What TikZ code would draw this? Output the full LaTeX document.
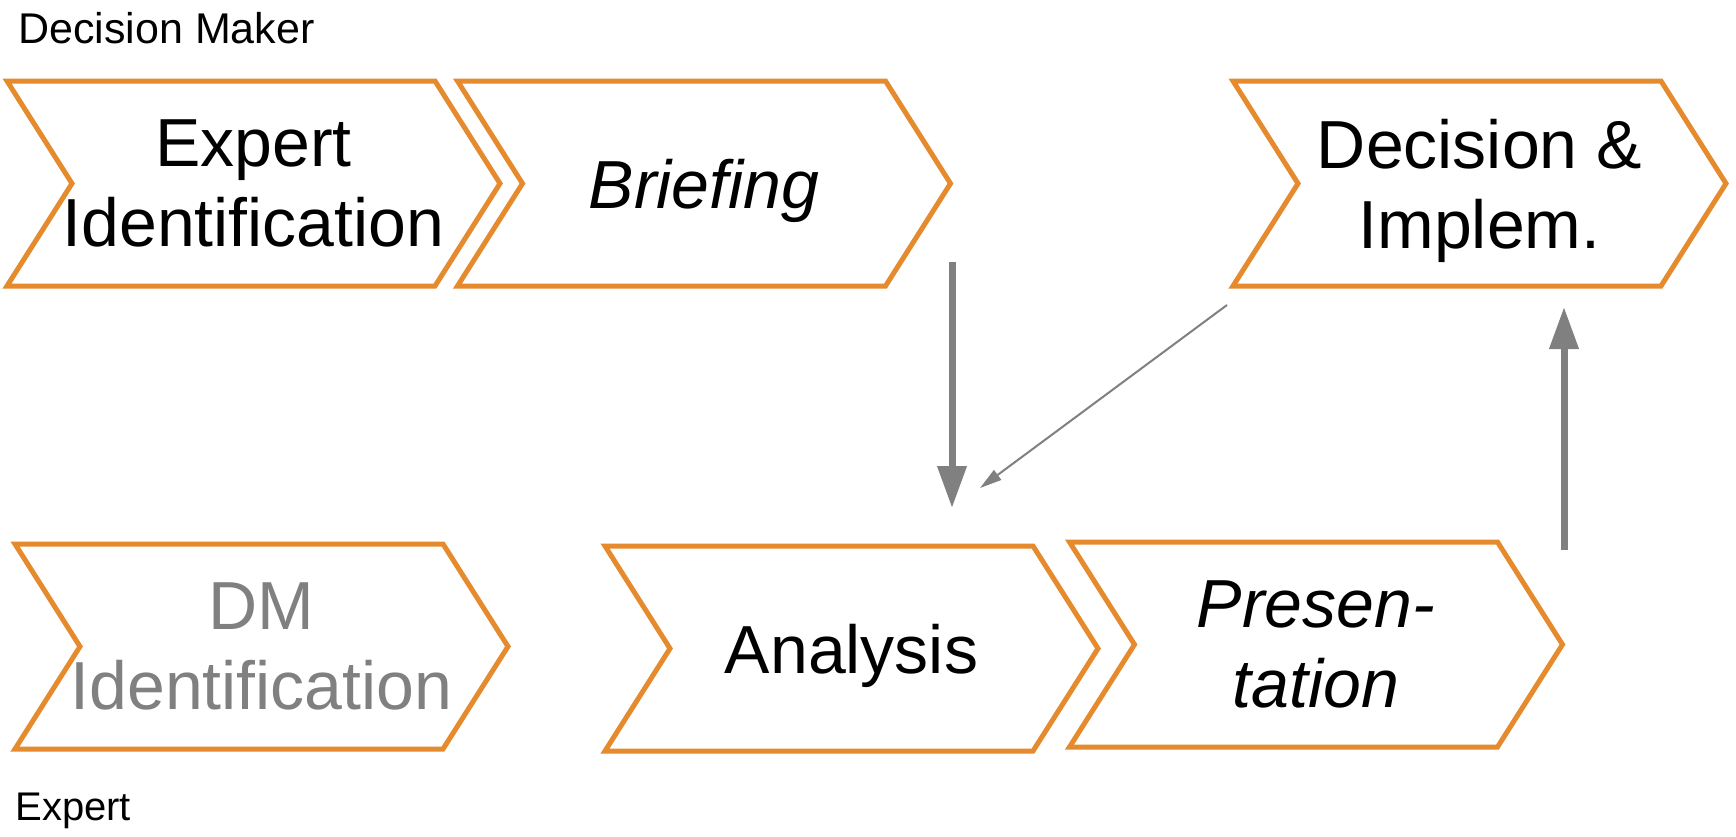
\documentclass[tikz,border=0pt]{standalone}
\usepackage{fontspec}
\setmainfont{Liberation Sans}
\usetikzlibrary{arrows.meta}
\definecolor{stageorange}{RGB}{230,138,46}
\definecolor{arrowgray}{RGB}{128,128,128}
\tikzset{
  stage/.style={shape=rectangle,minimum width=246.5pt,minimum height=102.5pt,
    outer sep=0pt,inner sep=0pt,align=center,text depth=0pt,
    font=\fontsize{34}{40}\selectfont},
  stageline/.style={draw=stageorange,line width=2.5pt},
  rolelabel/.style={anchor=base west,inner sep=0pt,font=\fontsize{20}{24}\selectfont},
  bigarrow/.style={draw=arrowgray,line width=3.5pt,-{Triangle[width=14pt,length=21pt]}},
  thinarrow/.style={draw=arrowgray,line width=1pt,-{Triangle[width=6pt,length=11pt]}}
}
\begin{document}
\begin{tikzpicture}[x=0.5pt,y=-0.5pt]
\fill[white] (0,0) rectangle (1736,836);
\useasboundingbox (0,0) rectangle (1736,836);
\node[rolelabel,font=\fontsize{21.5}{26}\selectfont] (dmlabel) at (18,43) {Decision Maker};
\node[rolelabel] (exlabel) at (15,820) {Expert};
\node[stage] (expid) at (253.5,183.5) {Expert\\Identification};
\node[stage] (brief) at (704,183.5) {\itshape Briefing};
\node[stage] (decide) at (1479.5,183.5) {Decision \&\\Implem.};
\node[stage,text=arrowgray] (dmid) at (261.5,646.5) {DM\\Identification};
\node[stage] (analysis) at (851.5,648.5) {Analysis};
\node[stage] (present) at (1316,644.5) {\itshape Presen-\\\itshape tation};
\foreach \n in {expid,brief,decide,dmid,analysis,present}
  \draw[stageline] (\n.north west) -- ([xshift=-32.5pt]\n.north east) -- (\n.east)
    -- ([xshift=-32.5pt]\n.south east) -- (\n.south west) -- ([xshift=32.5pt]\n.west) -- cycle;
\coordinate (downstart) at (952,262);
\coordinate (downend) at (952,508);
\coordinate (upstart) at (1564,550);
\coordinate (upend) at (1564,307);
\coordinate (backstart) at (1227,305);
\coordinate (backend) at (980,488);
\draw[bigarrow] (downstart) -- (downend);
\draw[bigarrow] (upstart) -- (upend);
\draw[thinarrow] (backstart) -- (backend);
\end{tikzpicture}
\end{document}
